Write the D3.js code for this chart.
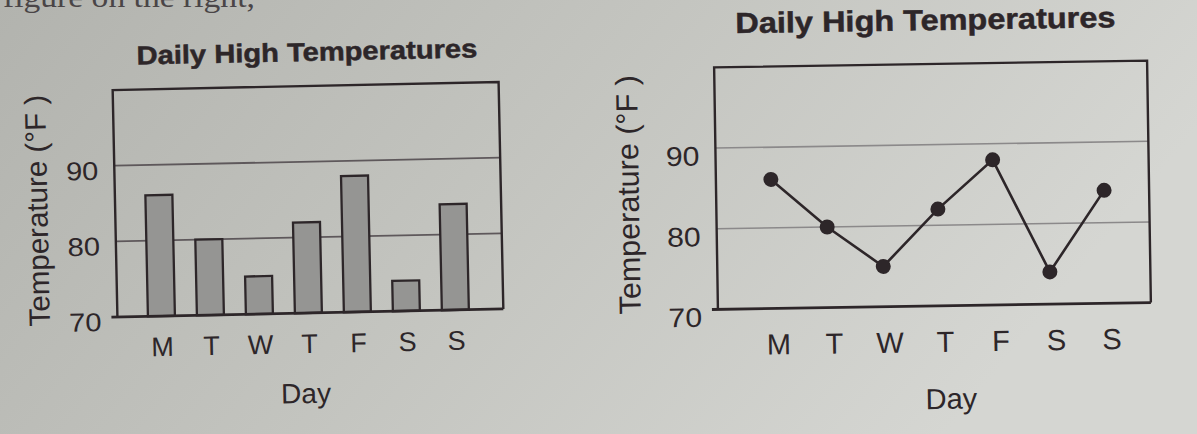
<!DOCTYPE html>
<html>
<head>
<meta charset="utf-8">
<script src="https://cdn.jsdelivr.net/npm/d3@7"></script>
<style>
  html, body { margin: 0; padding: 0; background: #c4c5c0; }
  svg { display: block; }
  text { font-family: 'Liberation Sans', Arial, Helvetica, sans-serif; fill: #2d2629; }
</style>
</head>
<body>
<svg id="page" width="1197" height="434"></svg>
<script>
// data
const days = ['M', 'T', 'W', 'T', 'F', 'S', 'S'];
const highs = [86, 80, 75, 82, 88, 74, 84];
const yTicks = [70, 80, 90];
const gridValues = [80, 90];
const title = 'Daily High Temperatures';
const yTitle = 'Temperature (°F )';
const xTitle = 'Day';

const svg = d3.select('#page');
const ink = '#2d2629';
// the photo stretches type a little sideways
const stretch = 1.12;

// paper background, darker toward the left like the photo
const grad = svg.append('defs').append('linearGradient')
  .attr('id', 'paper').attr('x1', 0).attr('x2', 1).attr('y1', 0).attr('y2', 0.3);
grad.append('stop').attr('offset', '0%').attr('stop-color', '#b2b3ae');
grad.append('stop').attr('offset', '50%').attr('stop-color', '#c3c4bf');
grad.append('stop').attr('offset', '100%').attr('stop-color', '#d5d6d2');
svg.append('rect').attr('width', 1197).attr('height', 434).attr('fill', 'url(#paper)');

// cut-off line of body text at the top of the page
svg.append('text')
  .attr('transform', `translate(3, 7) scale(${stretch}, 1)`)
  .style('font-family', "'Liberation Serif', 'Times New Roman', serif")
  .style('font-size', '30px')
  .style('fill', '#4a4547')
  .text('figure on the right,');

function drawChart(cfg) {
  const g = svg.append('g')
    .attr('transform', `rotate(${cfg.tilt}, ${(cfg.x0 + cfg.x1) / 2}, ${(cfg.yTop + cfg.yBot) / 2})`);

  const x = d3.scalePoint().domain(d3.range(days.length)).range(cfg.xRange);
  const y = d3.scaleLinear().domain([70, 100]).range([cfg.yBot, cfg.yTop]);

  // title
  g.append('text')
    .attr('transform', `translate(${cfg.titleX}, ${cfg.titleY}) scale(${stretch}, 1)`)
    .attr('text-anchor', 'middle')
    .style('font-weight', 'bold')
    .style('font-size', `${cfg.titleSize}px`)
    .style('stroke', ink).style('stroke-width', 0.5)
    .text(title);

  // gridlines
  g.selectAll('.grid').data(gridValues).join('line')
    .attr('class', 'grid')
    .attr('x1', cfg.x0).attr('x2', cfg.x1)
    .attr('y1', d => y(d)).attr('y2', d => y(d))
    .attr('stroke', cfg.gridColor).attr('stroke-width', cfg.gridWidth);

  // marks
  if (cfg.kind === 'bar') {
    g.selectAll('.bar').data(highs).join('rect')
      .attr('class', 'bar')
      .attr('x', (d, i) => x(i) - cfg.barWidth / 2)
      .attr('width', cfg.barWidth)
      .attr('y', d => y(d))
      .attr('height', d => y(70) - y(d))
      .attr('fill', '#959593')
      .attr('stroke', ink).attr('stroke-width', 2.3);
  } else {
    const line = d3.line().x((d, i) => x(i)).y(d => y(d));
    g.append('path')
      .datum(highs)
      .attr('d', line)
      .attr('fill', 'none')
      .attr('stroke', ink).attr('stroke-width', 2.6);
    g.selectAll('.dot').data(highs).join('circle')
      .attr('class', 'dot')
      .attr('cx', (d, i) => x(i)).attr('cy', d => y(d))
      .attr('r', 7.5)
      .attr('fill', ink);
  }

  // frame: top, left, right, then a heavier bottom axis line
  g.append('path')
    .attr('d', `M${cfg.x0},${cfg.yBot}V${cfg.yTop}H${cfg.x1}V${cfg.yBot}`)
    .attr('fill', 'none').attr('stroke', ink).attr('stroke-width', 2.4);
  g.append('line')
    .attr('x1', cfg.x0 - 6).attr('x2', cfg.x1)
    .attr('y1', cfg.yBot).attr('y2', cfg.yBot)
    .attr('stroke', ink).attr('stroke-width', 2.8);

  // y tick labels
  const yAxis = g.append('g')
    .attr('transform', `translate(${cfg.yLabelX}, ${cfg.yLabelDy})`)
    .call(d3.axisLeft(y).tickValues(yTicks).tickSize(0).tickPadding(0));
  yAxis.select('.domain').remove();
  yAxis.selectAll('text')
    .attr('fill', ink)
    .attr('transform', `scale(${stretch}, 1)`)
    .style('font-size', `${cfg.yLabelSize}px`)
    .style('font-family', null);

  // x tick labels
  const xAxis = g.append('g')
    .attr('transform', `translate(${cfg.xLabelDx}, ${cfg.yBot})`)
    .call(d3.axisBottom(x).tickFormat(i => days[i]).tickSize(0));
  xAxis.select('.domain').remove();
  xAxis.selectAll('text')
    .attr('y', cfg.xLabelY).attr('dy', null)
    .attr('fill', ink)
    .style('font-size', `${cfg.xLabelSize}px`)
    .style('font-family', null);

  // axis titles
  g.append('text')
    .attr('x', cfg.xTitleX).attr('y', cfg.xTitleY)
    .attr('text-anchor', 'middle')
    .style('font-size', `${cfg.xTitleSize}px`)
    .text(xTitle);
  g.append('text')
    .attr('transform', `translate(${cfg.yTitleX}, ${cfg.yTitleY}) rotate(-90)`)
    .attr('text-anchor', 'middle')
    .attr('dy', '0.35em')
    .style('font-size', `${cfg.yTitleSize}px`)
    .text(yTitle);
}

drawChart({
  kind: 'bar', tilt: -1.2,
  x0: 115, x1: 501, yTop: 86, yBot: 313,
  xRange: [159, 453], barWidth: 27,
  gridColor: '#5e585b', gridWidth: 1.8,
  titleX: 310, titleY: 61, titleSize: 26,
  yLabelX: 99, yLabelDy: 5, yLabelSize: 26,
  xLabelDx: 0, xLabelY: 40, xLabelSize: 27,
  xTitleX: 302, xTitleY: 403, xTitleSize: 28,
  yTitleX: 37, yTitleY: 205, yTitleSize: 29.5
});

drawChart({
  kind: 'line', tilt: -0.9,
  x0: 716, x1: 1149, yTop: 64, yBot: 306,
  xRange: [771, 1104],
  gridColor: '#8b898a', gridWidth: 1.6,
  titleX: 928, titleY: 30, titleSize: 29,
  yLabelX: 700, yLabelDy: 8, yLabelSize: 27,
  xLabelDx: 5, xLabelY: 46, xLabelSize: 29,
  xTitleX: 948, xTitleY: 409, xTitleSize: 29,
  yTitleX: 628, yTitleY: 190, yTitleSize: 30.5
});
</script>
</body>
</html>
